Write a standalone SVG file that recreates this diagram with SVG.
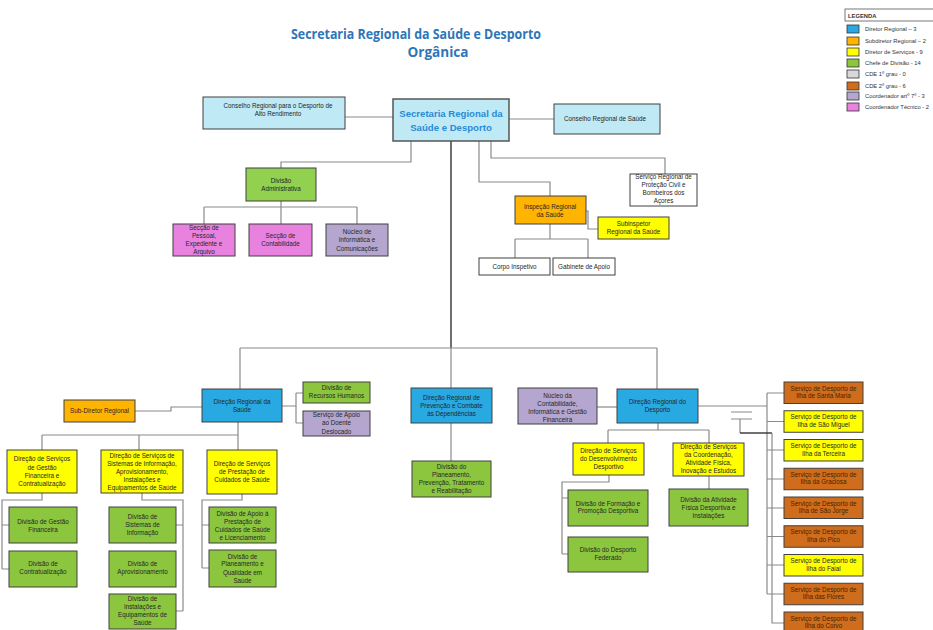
<svg xmlns="http://www.w3.org/2000/svg" width="933" height="630" viewBox="0 0 933 630">
<style>
.bx{stroke:#404040;stroke-width:1}
.cy{fill:#bfeaf5}.bl{fill:#29a9e1}.or{fill:#ffb400}.ye{fill:#ffff00}.gr{fill:#8cc63f}.wh{fill:#ffffff}.br{fill:#cf6d1c}.pu{fill:#b4a6cf}.pk{fill:#e982de}.ga{fill:#92d050}.lg{fill:#d9d9d9}
.t{font-family:'Liberation Sans',Arial,sans-serif;font-size:6.3px;fill:#262626;text-anchor:middle}
.tb{fill:#4a1f00}
.c{fill:none;stroke:#8a8a8a;stroke-width:1.2}
.cd{fill:none;stroke:#333;stroke-width:1.4}
.lt{font-family:'Liberation Sans',Arial,sans-serif;font-size:5.8px;fill:#333}
.tt{font-family:'Open Sans','Liberation Sans',sans-serif;font-weight:bold;font-size:13.5px;fill:#2e75b6;text-anchor:middle}
</style>
<rect width="933" height="630" fill="#fff"/>
<g id="title">
<text x="416" y="38.5" class="tt" textLength="250" lengthAdjust="spacingAndGlyphs">Secretaria Regional da Saúde e Desporto</text>
<text x="438" y="57" class="tt" textLength="61" lengthAdjust="spacingAndGlyphs">Orgânica</text>
</g>
<g id="legend">
<rect x="845" y="9" width="92" height="12" fill="#fff" stroke="#555" stroke-width="0.8"/>
<text x="848" y="17.5" class="lt" font-weight="bold" font-size="5.4">LEGENDA</text>
<rect x="847" y="25" width="12" height="8" class="bl" stroke="#333" stroke-width="0.8"/><text x="865" y="31" class="lt">Diretor Regional – 3</text>
<rect x="847" y="37" width="12" height="8" class="or" stroke="#333" stroke-width="0.8"/><text x="865" y="43" class="lt">Subdiretor Regional – 2</text>
<rect x="847" y="48" width="12" height="8" class="ye" stroke="#333" stroke-width="0.8"/><text x="865" y="54" class="lt">Diretor de Serviços - 9</text>
<rect x="847" y="59" width="12" height="8" class="gr" stroke="#333" stroke-width="0.8"/><text x="865" y="65" class="lt">Chefe de Divisão - 14</text>
<rect x="847" y="70" width="12" height="8" class="lg" stroke="#333" stroke-width="0.8"/><text x="865" y="76" class="lt">CDE 1º grau - 0</text>
<rect x="847" y="82" width="12" height="8" class="br" stroke="#333" stroke-width="0.8"/><text x="865" y="88" class="lt">CDE 2º grau - 6</text>
<rect x="847" y="92" width="12" height="8" class="pu" stroke="#333" stroke-width="0.8"/><text x="865" y="98" class="lt">Coordenador artº 7º - 3</text>
<rect x="847" y="103" width="12" height="8" class="pk" stroke="#333" stroke-width="0.8"/><text x="865" y="109" class="lt">Coordenador Técnico - 2</text>
</g>
<g id="connectors">
<path class="c" d="M345 117H393M509 119H554"/>
<path class="c" d="M411 141V162H281V168"/>
<path class="c" d="M281 201V207M204 207H357M204 207V224M281 207V224M357 207V224"/>
<path class="c" d="M479 141V182H550V196"/>
<path class="c" d="M491 141V158H665V174"/>
<path class="c" d="M586 211H588V229H598"/>
<path class="c" d="M550 224V239M515 239H588M515 239V258M588 239V258"/>
<path class="cd" d="M451 141V348"/>
<path class="c" d="M240 348H657M240 348V389M451 348V388M657 348V389"/>
<path class="c" d="M135 411H171V407H202"/>
<path class="c" d="M282 406H296M296 393V423M296 393H303M296 423H303"/>
<path class="c" d="M238 422V450M42 435H238M42 435V450M139 435V450"/>
<path class="c" d="M42 493V500H2V569M2 525H9M2 569H9"/>
<path class="c" d="M142 493V500H183V611M176 525H183M176 611H183"/>
<path class="c" d="M242 494V500H202V568M202 525H209M202 568H209"/>
<path class="c" d="M451 423V461"/>
<path class="c" d="M597 407H617"/>
<path class="c" d="M658 423V430M608 430H709M608 430V443M709 430V443"/>
<path class="c" d="M609 475V482H562V554M562 498H568M562 554H568"/>
<path class="c" d="M709 476V489"/>
<path class="c" d="M698 406H767M767 393V594M767 393H784M767 421.5H784M767 450H784M767 479H784M767 508H784M767 536.5H784M767 565H784M767 594H784"/>
<path class="c" d="M731 412H752M731 419H752M740 419V433"/>
<path class="cd" d="M740 433H772"/>
<path class="c" d="M772 433V623H784"/>
</g>
<g id="n-crdar"><rect class="bx cy" x="203" y="97" width="142" height="32"/><text class="t" x="278" y="108">Conselho Regional para o Desporto de<tspan x="278" dy="7.6">Alto Rendimento</tspan></text></g>
<g id="n-srsd"><rect class="cy" x="393" y="99" width="116" height="42" stroke="#555" stroke-width="1.5"/><text x="451" y="117" font-family="'Liberation Sans',Arial,sans-serif" font-weight="bold" font-size="9.6" fill="#2a8ad4" text-anchor="middle">Secretaria Regional da<tspan x="451" dy="13.5">Saúde e Desporto</tspan></text></g>
<g id="n-crs"><rect class="bx cy" x="554" y="104" width="106" height="30"/><text class="t" x="605" y="121">Conselho Regional de Saúde</text></g>
<g id="n-divadm"><rect class="bx ga" x="246" y="168" width="70" height="33"/><text class="t" x="281" y="183">Divisão<tspan x="281" dy="8">Administrativa</tspan></text></g>
<g id="n-spea"><rect class="bx pk" x="173" y="224" width="62" height="32"/><text class="t" x="204" y="229.5">Secção de<tspan x="204" dy="8">Pessoal,</tspan><tspan x="204" dy="8.3">Expediente e</tspan><tspan x="204" dy="8">Arquivo</tspan></text></g>
<g id="n-sc"><rect class="bx pk" x="249" y="224" width="63" height="32"/><text class="t" x="280.5" y="238">Secção de<tspan x="280.5" dy="8">Contabilidade</tspan></text></g>
<g id="n-nic"><rect class="bx pu" x="326" y="224" width="62" height="32"/><text class="t" x="357" y="234">Núcleo de<tspan x="357" dy="8.3">Informática e</tspan><tspan x="357" dy="8.3">Comunicações</tspan></text></g>
<g id="n-srpc"><rect class="bx wh" x="630" y="174" width="67" height="32"/><text class="t" x="663.5" y="179">Serviço Regional de<tspan x="663.5" dy="8">Proteção Civil e</tspan><tspan x="663.5" dy="8">Bombeiros dos</tspan><tspan x="663.5" dy="8">Açores</tspan></text></g>
<g id="n-irs"><rect class="bx or" x="515" y="196" width="71" height="28"/><text class="t" x="550" y="209">Inspeção Regional<tspan x="550" dy="7.8">da Saúde</tspan></text></g>
<g id="n-subirs"><rect class="bx ye" x="598" y="217" width="71" height="22"/><text class="t" x="633.5" y="225.5">Subinspetor<tspan x="633.5" dy="8.2">Regional da Saúde</tspan></text></g>
<g id="n-ci"><rect class="bx wh" x="479" y="258" width="71" height="17"/><text class="t" x="514.5" y="269">Corpo Inspetivo</text></g>
<g id="n-ga"><rect class="bx wh" x="553" y="258" width="62" height="17"/><text class="t" x="584" y="269">Gabinete de Apoio</text></g>
<g id="n-drs"><rect class="bx bl" x="202" y="389" width="80" height="33"/><text class="t" x="242" y="404">Direção Regional da<tspan x="242" dy="7.6">Saúde</tspan></text></g>
<g id="n-subdr"><rect class="bx or" x="64" y="400" width="71" height="22"/><text class="t" x="99.5" y="413">Sub-Diretor Regional</text></g>
<g id="n-drh"><rect class="bx gr" x="303" y="382" width="67" height="21"/><text class="t" x="336.5" y="389.5">Divisão de<tspan x="336.5" dy="8.5">Recursos Humanos</tspan></text></g>
<g id="n-sadd"><rect class="bx pu" x="303" y="411" width="67" height="25"/><text class="t" x="336.5" y="416.5">Serviço de Apoio<tspan x="336.5" dy="8.5">ao Doente</tspan><tspan x="336.5" dy="8.5">Deslocado</tspan></text></g>
<g id="n-dsgfc"><rect class="bx ye" x="7" y="450" width="70" height="43"/><text class="t" x="42" y="461">Direção de Serviços<tspan x="42" dy="8.5">de Gestão</tspan><tspan x="42" dy="8.5">Financeira e</tspan><tspan x="42" dy="7.8">Contratualização</tspan></text></g>
<g id="n-dssi"><rect class="bx ye" x="101" y="450" width="82" height="43"/><text class="t" x="142" y="458">Direção de Serviços de<tspan x="142" dy="7.8">Sistemas de Informação,</tspan><tspan x="142" dy="7.8">Aprovisionamento,</tspan><tspan x="142" dy="7.9">Instalações e</tspan><tspan x="142" dy="8.1">Equipamentos de Saúde</tspan></text></g>
<g id="n-dspc"><rect class="bx ye" x="207" y="450" width="70" height="44"/><text class="t" x="242" y="465.5">Direção de Serviços<tspan x="242" dy="8">de Prestação de</tspan><tspan x="242" dy="8">Cuidados de Saúde</tspan></text></g>
<g id="n-dgf"><rect class="bx gr" x="9" y="507" width="68" height="36"/><text class="t" x="43" y="524">Divisão de Gestão<tspan x="43" dy="7.6">Financeira</tspan></text></g>
<g id="n-dc"><rect class="bx gr" x="9" y="551" width="68" height="36"/><text class="t" x="43" y="566">Divisão de<tspan x="43" dy="7.8">Contratualização</tspan></text></g>
<g id="n-dsi"><rect class="bx gr" x="109" y="507" width="67" height="36"/><text class="t" x="142.5" y="519">Divisão de<tspan x="142.5" dy="8.2">Sistemas de</tspan><tspan x="142.5" dy="8.2">Informação</tspan></text></g>
<g id="n-dap"><rect class="bx gr" x="109" y="551" width="67" height="36"/><text class="t" x="142.5" y="566">Divisão de<tspan x="142.5" dy="7.8">Aprovisionamento</tspan></text></g>
<g id="n-die"><rect class="bx gr" x="109" y="594" width="67" height="35"/><text class="t" x="142.5" y="601">Divisão de<tspan x="142.5" dy="8.3">Instalações e</tspan><tspan x="142.5" dy="8">Equipamentos de</tspan><tspan x="142.5" dy="8">Saúde</tspan></text></g>
<g id="n-dapc"><rect class="bx gr" x="209" y="507" width="67" height="36"/><text class="t" x="242.5" y="515.5">Divisão de Apoio à<tspan x="242.5" dy="8.2">Prestação de</tspan><tspan x="242.5" dy="7.8">Cuidados de Saúde</tspan><tspan x="242.5" dy="8">e Licenciamento</tspan></text></g>
<g id="n-dpqs"><rect class="bx gr" x="209" y="550" width="67" height="37"/><text class="t" x="242.5" y="558.5">Divisão de<tspan x="242.5" dy="7.8">Planeamento e</tspan><tspan x="242.5" dy="8.3">Qualidade em</tspan><tspan x="242.5" dy="8">Saúde</tspan></text></g>
<g id="n-drpcd"><rect class="bx bl" x="411" y="388" width="81" height="35"/><text class="t" x="451.5" y="399.5">Direção Regional de<tspan x="451.5" dy="8.3">Prevenção e Combate</tspan><tspan x="451.5" dy="7.8">às Dependências</tspan></text></g>
<g id="n-dpptr"><rect class="bx gr" x="412" y="461" width="79" height="36"/><text class="t" x="451.5" y="469">Divisão do<tspan x="451.5" dy="8">Planeamento,</tspan><tspan x="451.5" dy="8">Prevenção, Tratamento</tspan><tspan x="451.5" dy="8">e Reabilitação</tspan></text></g>
<g id="n-ncigf"><rect class="bx pu" x="518" y="388" width="79" height="36"/><text class="t" x="557.5" y="397.5">Núcleo da<tspan x="557.5" dy="8">Contabilidade,</tspan><tspan x="557.5" dy="8">Informática e Gestão</tspan><tspan x="557.5" dy="8">Financeira</tspan></text></g>
<g id="n-drd"><rect class="bx bl" x="617" y="389" width="81" height="34"/><text class="t" x="657.5" y="404">Direção Regional do<tspan x="657.5" dy="7.6">Desporto</tspan></text></g>
<g id="n-dsdd"><rect class="bx ye" x="573" y="443" width="71" height="32"/><text class="t" x="608.5" y="453">Direção de Serviços<tspan x="608.5" dy="8">do Desenvolvimento</tspan><tspan x="608.5" dy="8">Desportivo</tspan></text></g>
<g id="n-dscafie"><rect class="bx ye" x="673" y="443" width="71" height="33"/><text class="t" x="708.5" y="448.5">Direção de Serviços<tspan x="708.5" dy="8">da Coordenação,</tspan><tspan x="708.5" dy="8.5">Atividade Física,</tspan><tspan x="708.5" dy="8">Inovação e Estudos</tspan></text></g>
<g id="n-dfpd"><rect class="bx gr" x="568" y="490" width="80" height="36"/><text class="t" x="608" y="505.5">Divisão de Formação e<tspan x="608" dy="7.6">Promoção Desportiva</tspan></text></g>
<g id="n-ddf"><rect class="bx gr" x="568" y="537" width="80" height="35"/><text class="t" x="608" y="551.5">Divisão do Desporto<tspan x="608" dy="8.3">Federado</tspan></text></g>
<g id="n-dafdi"><rect class="bx gr" x="669" y="489" width="79" height="37"/><text class="t" x="708.5" y="501.5">Divisão da Atividade<tspan x="708.5" dy="8">Física Desportiva e</tspan><tspan x="708.5" dy="8">Instalações</tspan></text></g>
<g id="n-sdism"><rect class="bx br" x="784" y="382" width="79" height="21.5"/><text class="t tb" x="823.5" y="390.5">Serviço de Desporto de<tspan x="823.5" dy="7.6">Ilha de Santa Maria</tspan></text></g>
<g id="n-sdismg"><rect class="bx ye" x="784" y="410.75" width="79" height="21.5"/><text class="t" x="823.5" y="419.25">Serviço de Desporto de<tspan x="823.5" dy="7.6">Ilha de São Miguel</tspan></text></g>
<g id="n-sdit"><rect class="bx ye" x="784" y="439.5" width="79" height="21.5"/><text class="t" x="823.5" y="448">Serviço de Desporto de<tspan x="823.5" dy="7.6">Ilha da Terceira</tspan></text></g>
<g id="n-sdig"><rect class="bx br" x="784" y="468.25" width="79" height="21.5"/><text class="t tb" x="823.5" y="476.75">Serviço de Desporto de<tspan x="823.5" dy="7.6">Ilha da Graciosa</tspan></text></g>
<g id="n-sdisj"><rect class="bx br" x="784" y="497" width="79" height="21.5"/><text class="t tb" x="823.5" y="505.5">Serviço de Desporto de<tspan x="823.5" dy="7.6">Ilha de São Jorge</tspan></text></g>
<g id="n-sdip"><rect class="bx br" x="784" y="525.75" width="79" height="21.5"/><text class="t tb" x="823.5" y="534.25">Serviço de Desporto de<tspan x="823.5" dy="7.6">Ilha do Pico</tspan></text></g>
<g id="n-sdif"><rect class="bx ye" x="784" y="554.5" width="79" height="21.5"/><text class="t" x="823.5" y="563">Serviço de Desporto de<tspan x="823.5" dy="7.6">Ilha do Faial</tspan></text></g>
<g id="n-sdifl"><rect class="bx br" x="784" y="583.25" width="79" height="21.5"/><text class="t tb" x="823.5" y="591.75">Serviço de Desporto de<tspan x="823.5" dy="7.6">Ilha das Flores</tspan></text></g>
<g id="n-sdic"><rect class="bx br" x="784" y="612" width="79" height="21.5"/><text class="t tb" x="823.5" y="620.5">Serviço de Desporto de<tspan x="823.5" dy="7.6">Ilha do Corvo</tspan></text></g>
</svg>
